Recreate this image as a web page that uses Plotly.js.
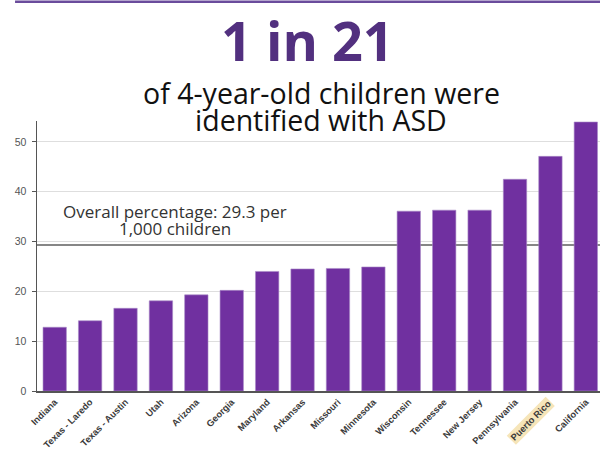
<!DOCTYPE html>
<html>
<head>
<meta charset="utf-8">
<script src="https://cdn.plot.ly/plotly-3.0.1.min.js"></script>
<style>
  html, body { margin: 0; padding: 0; background: #ffffff; }
  #chart { width: 600px; height: 450px; }
</style>
</head>
<body>
<div id="chart"></div>
<script>
// ASD prevalence among 4-year-old children, per 1,000, by ADDM site
const sites = [
  'Indiana', 'Texas - Laredo', 'Texas - Austin', 'Utah', 'Arizona', 'Georgia',
  'Maryland', 'Arkansas', 'Missouri', 'Minnesota', 'Wisconsin', 'Tennessee',
  'New Jersey', 'Pennsylvania', 'Puerto Rico', 'California'
];
const ratePer1000 = [
  12.8, 14.1, 16.6, 18.1, 19.3, 20.2,
  24.0, 24.5, 24.6, 24.9, 36.1, 36.3,
  36.3, 42.5, 47.1, 54.0
];
const overallRate = 29.3;
const highlightedSite = 'Puerto Rico';
const yTicks = [0, 10, 20, 30, 40, 50];

const headline = '1 in 21';
const subtitleLines = ['of 4-year-old children were', 'identified with ASD'];
const overallLines = ['Overall percentage: ' + overallRate + ' per', '1,000 children'];

const purple = '#7030a0';
const darkPurple = '#52307f';
const axisGray = '#555555';
const labelFont = { family: 'Liberation Sans, Arial, sans-serif', size: 9.3, color: '#3a3a3a' };

const trace = {
  type: 'bar',
  x: sites,
  y: ratePer1000,
  marker: { color: purple, line: { color: '#a98bc8', width: 0.6 } },
  hoverinfo: 'x+y'
};

const layout = {
  width: 600,
  height: 450,
  margin: { l: 37, r: 0, t: 121, b: 59 },
  paper_bgcolor: '#ffffff',
  plot_bgcolor: '#ffffff',
  showlegend: false,
  bargap: 0.34,
  font: { family: 'Open Sans, sans-serif', color: '#222' },
  xaxis: {
    type: 'category',
    range: [-0.5, 15.4],
    tickvals: sites,
    ticktext: sites.map(s => s === highlightedSite ? '' : s),
    tickangle: -45,
    tickfont: Object.assign({ weight: 'bold' }, labelFont),
    showline: true,
    linecolor: axisGray,
    linewidth: 2,
    ticks: '',
    showgrid: false,
    zeroline: false,
    fixedrange: true
  },
  yaxis: {
    range: [0, 54.2],
    tickvals: yTicks,
    ticktext: yTicks.map(String),
    tickfont: { family: 'Liberation Sans, Arial, sans-serif', size: 10.5, color: '#555' },
    ticks: 'outside',
    ticklen: 4,
    tickcolor: axisGray,
    ticklabelstandoff: 3,
    showline: true,
    linecolor: axisGray,
    linewidth: 1.5,
    showgrid: true,
    gridcolor: '#dedede',
    gridwidth: 1,
    zeroline: false,
    fixedrange: true
  },
  shapes: [
    {
      // overall prevalence reference line
      type: 'line', xref: 'paper', yref: 'y',
      x0: 0, x1: 1, y0: overallRate, y1: overallRate,
      line: { color: '#5e5e5e', width: 1.6 },
      layer: 'between'
    },
    {
      // header rule along the top edge
      type: 'line', xref: 'paper', yref: 'paper',
      x0: -0.039, x1: 1, y0: 1.442, y1: 1.442,
      line: { color: '#6a4c9c', width: 2.5 }
    }
  ],
  annotations: [
    {
      text: '<b>' + headline + '</b>',
      xref: 'paper', yref: 'paper', x: 0.481, y: 1.4444,
      xanchor: 'center', yanchor: 'top', showarrow: false,
      font: { family: 'Open Sans, sans-serif', size: 54, color: darkPurple }
    },
    {
      text: subtitleLines[0],
      xref: 'paper', yref: 'paper', x: 0.505, y: 1.102,
      xanchor: 'center', yanchor: 'middle', showarrow: false,
      font: { family: 'Open Sans, sans-serif', size: 28.5, color: '#111' }
    },
    {
      text: subtitleLines[1],
      xref: 'paper', yref: 'paper', x: 0.505, y: 1.003,
      xanchor: 'center', yanchor: 'middle', showarrow: false,
      font: { family: 'Open Sans, sans-serif', size: 28.5, color: '#111' }
    },
    {
      text: overallLines[0],
      xref: 'paper', yref: 'y', x: 0.245, y: 36.1,
      xanchor: 'center', yanchor: 'middle', showarrow: false,
      font: { family: 'Open Sans, sans-serif', size: 17, color: '#333' }
    },
    {
      text: overallLines[1],
      xref: 'paper', yref: 'y', x: 0.245, y: 32.7,
      xanchor: 'center', yanchor: 'middle', showarrow: false,
      font: { family: 'Open Sans, sans-serif', size: 17, color: '#333' }
    },
    {
      // highlighted site label with a shaded background
      text: '<b>' + highlightedSite + '</b>',
      xref: 'x', yref: 'paper', x: highlightedSite, y: -0.02,
      xanchor: 'right', yanchor: 'top', xshift: 5,
      textangle: -45, showarrow: false,
      bgcolor: '#f6e5b9', borderpad: 1,
      font: labelFont
    }
  ]
};

Plotly.newPlot('chart', [trace], layout, { displayModeBar: false, staticPlot: true });
</script>
</body>
</html>
